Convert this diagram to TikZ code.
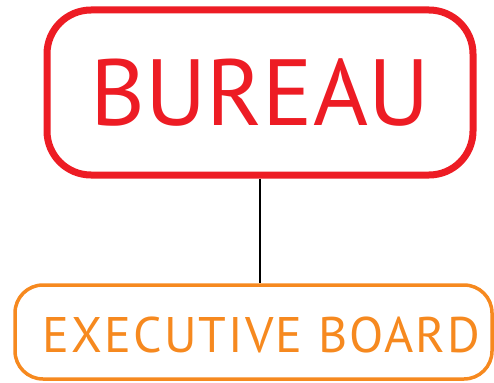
\documentclass[tikz,border=0pt]{standalone}
\usepackage{fontspec}
\setmainfont{PT Sans}
\definecolor{bred}{HTML}{ED1C24}
\definecolor{borange}{HTML}{F6891F}
\begin{document}
\begin{tikzpicture}[x=1pt,y=-1pt,
  bureaubox/.style={draw=bred,line width=7pt,rounded corners=44pt,minimum width=426pt,minimum height=165pt,inner sep=0pt},
  execbox/.style={draw=borange,line width=3.5pt,rounded corners=28pt,minimum width=477pt,minimum height=94pt,inner sep=0pt},
  conn/.style={draw=black,line width=1.5pt}]
\useasboundingbox (0,0) rectangle (494,382);
\node[bureaubox] (bureau) at (260,92.5) {};
\node[text=bred,font=\fontsize{94}{94}\selectfont,anchor=base,inner sep=0pt] (bureautext) at (260,126) {BUREAU};
\node[execbox] (exec) at (253.5,332) {};
\node[text=borange,font=\fontsize{50}{50}\selectfont\addfontfeatures{LetterSpace=4.2},anchor=base,inner sep=0pt] (exectext) at (261.5,352) {EXECUTIVE BOARD};
\draw[conn] (bureau.south) -- (bureau.south |- exec.north);
\end{tikzpicture}
\end{document}
